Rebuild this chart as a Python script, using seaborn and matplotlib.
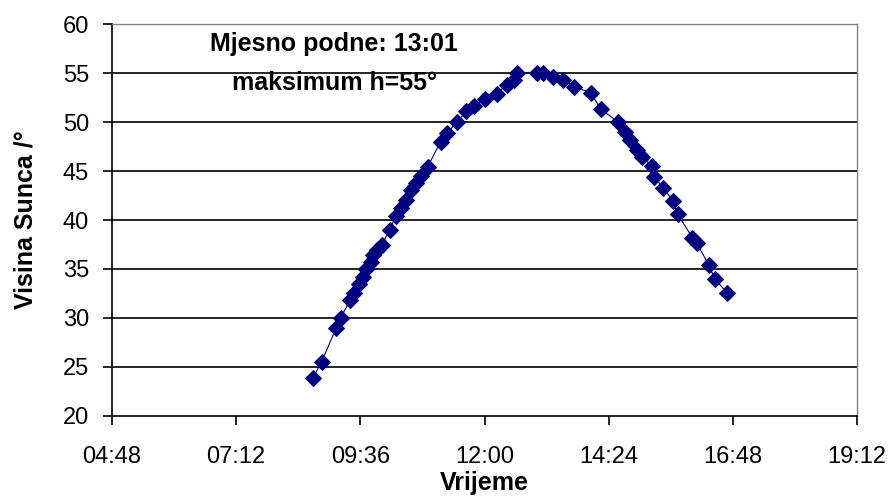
import pandas as pd
import seaborn as sns
import matplotlib.pyplot as plt
from matplotlib.ticker import FixedLocator, FuncFormatter

# vremena mjerenja i visina Sunca
vrijeme = ["08:41", "08:51", "09:08", "09:13", "09:24", "09:29", "09:34", "09:39",
           "09:43", "09:48", "09:51", "09:55", "10:01", "10:10", "10:17", "10:23",
           "10:29", "10:35", "10:41", "10:46", "10:54", "11:09", "11:17", "11:28",
           "11:39", "11:48", "12:00", "12:14", "12:26", "12:34", "12:38", "13:01",
           "13:08", "13:19", "13:31", "13:44", "14:03", "14:15", "14:35", "14:43",
           "14:49", "14:57", "15:03", "15:14", "15:17", "15:27", "15:39", "15:44",
           "16:01", "16:06", "16:20", "16:27", "16:41"]
visina = [23.9, 25.5, 29.0, 30.0, 31.8, 32.6, 33.5, 34.2,
          35.0, 35.7, 36.4, 36.9, 37.5, 39.0, 40.4, 41.2,
          42.0, 43.1, 43.8, 44.5, 45.4, 48.0, 48.9, 50.0,
          51.1, 51.6, 52.3, 52.9, 53.8, 54.3, 55.0, 55.0,
          55.0, 54.6, 54.3, 53.6, 53.0, 51.3, 50.0, 49.0,
          48.2, 47.1, 46.4, 45.5, 44.4, 43.3, 41.9, 40.6,
          38.2, 37.7, 35.4, 34.0, 32.6]
x_ticks = ["04:48", "07:12", "09:36", "12:00", "14:24", "16:48", "19:12"]
y_ticks = [20, 25, 30, 35, 40, 45, 50, 55, 60]


def u_minute(t):
    h, m = t.split(":")
    return int(h) * 60 + int(m)


def main():
    df = pd.DataFrame({"min": [u_minute(t) for t in vrijeme], "h": visina})

    sns.set_theme(style="white")
    plt.rcParams["font.family"] = ["Liberation Sans", "DejaVu Sans"]
    plt.rcParams["text.color"] = "black"
    plt.rcParams["axes.labelcolor"] = "black"
    plt.rcParams["xtick.color"] = "black"
    plt.rcParams["ytick.color"] = "black"

    fig = plt.figure(figsize=(8.96, 4.96), dpi=100)
    ax = fig.add_axes([0.125, 0.1613, 0.8315, 0.7903])

    sns.lineplot(data=df, x="min", y="h", sort=False, estimator=None,
                 color="#000080", linewidth=0.8, marker="D", markersize=8,
                 markeredgecolor="#000080", ax=ax)

    xt = [u_minute(t) for t in x_ticks]
    ax.set_xlim(xt[0], xt[-1])
    ax.set_ylim(20, 60)
    ax.xaxis.set_major_locator(FixedLocator(xt))
    ax.xaxis.set_major_formatter(FuncFormatter(lambda v, p: f"{int(v)//60:02d}:{int(v)%60:02d}"))
    ax.set_yticks(y_ticks)

    for y in y_ticks[1:-1]:
        ax.axhline(y, color="black", linewidth=1.2, zorder=0)

    for s in ["left", "bottom"]:
        ax.spines[s].set_color("black")
        ax.spines[s].set_linewidth(1.2)
    for s in ["top", "right"]:
        ax.spines[s].set_color("#808080")
        ax.spines[s].set_linewidth(1.0)

    ax.tick_params(axis="both", direction="out", length=6.5, width=1.2,
                   labelsize=17, left=True, bottom=True)
    ax.tick_params(axis="y", pad=10)
    ax.tick_params(axis="x", pad=15)

    ax.set_xlabel("Vrijeme", fontsize=18, fontweight="bold", labelpad=2)
    ax.set_ylabel("Visina Sunca /°", fontsize=18, fontweight="bold", labelpad=18)

    ax.text(0.298, 0.95, "Mjesno podne: 13:01", transform=ax.transAxes, ha="center",
            va="center", fontsize=18, fontweight="bold")
    ax.text(0.298, 0.85, "maksimum h=55°", transform=ax.transAxes, ha="center",
            va="center", fontsize=18, fontweight="bold")

    fig.savefig("out.png", dpi=100)
    plt.close(fig)


if __name__ == "__main__":
    main()
